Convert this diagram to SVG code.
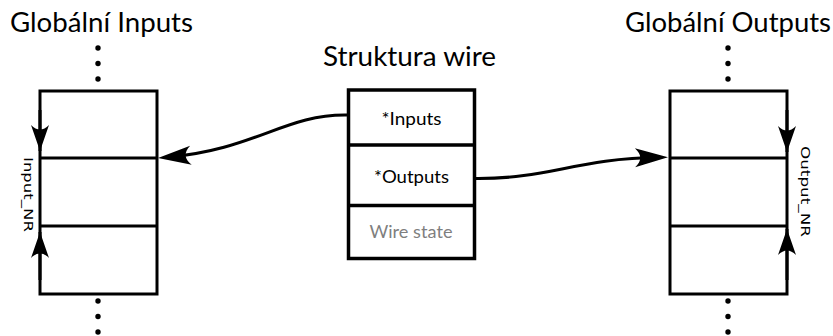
<svg xmlns="http://www.w3.org/2000/svg" width="833" height="336" viewBox="0 0 833 336">
<style>
.box{fill:#fff;stroke:#000;stroke-width:3}
.mid{fill:#fff;stroke:#000;stroke-width:3.5}
.div{fill:none;stroke:#000;stroke-width:3}
.divm{fill:none;stroke:#000;stroke-width:3.5}
.conn{fill:none;stroke:#000;stroke-width:3}
.title{font-family:Lato,"Liberation Sans",sans-serif;font-size:27px;fill:#000}
.cell{font-family:Lato,"Liberation Sans",sans-serif;font-size:16.5px;fill:#000;text-anchor:middle}
.gray{fill:#7f7f7f}
.side{font-family:"DejaVu Sans",sans-serif;font-size:12.5px;fill:#000}
.dot{fill:#000}
</style>
<defs>
<marker id="ahBig" markerUnits="userSpaceOnUse" viewBox="-40 -12 50 24" markerWidth="50" markerHeight="24" refX="-8" refY="0" orient="auto" overflow="visible">
<path d="M0,0 L-33,-9.5 C-26,-3 -26,3 -33,9.5 Z" fill="#000"/>
</marker>
<marker id="ahSmall" markerUnits="userSpaceOnUse" viewBox="-30 -12 40 24" markerWidth="40" markerHeight="24" refX="0" refY="0" orient="auto" overflow="visible">
<path d="M0,0 L-26,-9 C-20,-3 -20,3 -26,9 Z" fill="#000"/>
</marker>
</defs>
<rect width="833" height="336" fill="#fff"/>

<g id="global-inputs">
<text class="title" x="10" y="32" textLength="183" lengthAdjust="spacingAndGlyphs">Globální Inputs</text>
<circle class="dot" cx="98" cy="48" r="2.7"/>
<circle class="dot" cx="98" cy="63.5" r="2.7"/>
<circle class="dot" cx="98" cy="79" r="2.7"/>
<rect class="box" x="40" y="91" width="117" height="203"/>
<path class="div" d="M40,158 H157 M40,226 H157"/>
<circle class="dot" cx="98" cy="301" r="2.7"/>
<circle class="dot" cx="98" cy="316.5" r="2.7"/>
<circle class="dot" cx="98" cy="332" r="2.7"/>
<path class="div" d="M40,110 V151" marker-end="url(#ahSmall)"/>
<path class="div" d="M40,280 V232" marker-end="url(#ahSmall)"/>
<text class="side" transform="translate(23.5,157) rotate(90)" textLength="75" lengthAdjust="spacingAndGlyphs">Input_NR</text>
</g>

<g id="struktura-wire">
<text class="title" x="323" y="66" textLength="173" lengthAdjust="spacingAndGlyphs">Struktura wire</text>
<rect class="mid" x="348.5" y="90" width="126" height="168.5"/>
<path class="divm" d="M348.5,145 H474.5 M348.5,205.5 H474.5"/>
<text class="cell" x="411.5" y="125" textLength="60" lengthAdjust="spacingAndGlyphs">*Inputs</text>
<text class="cell" x="411.5" y="183.3" textLength="75" lengthAdjust="spacingAndGlyphs">*Outputs</text>
<text class="cell gray" x="411" y="238.3" textLength="83" lengthAdjust="spacingAndGlyphs">Wire state</text>
</g>

<g id="global-outputs">
<text class="title" x="625" y="32" textLength="206" lengthAdjust="spacingAndGlyphs">Globální Outputs</text>
<circle class="dot" cx="728" cy="48" r="2.7"/>
<circle class="dot" cx="728" cy="63.5" r="2.7"/>
<circle class="dot" cx="728" cy="79" r="2.7"/>
<rect class="box" x="670" y="91" width="117" height="203"/>
<path class="div" d="M670,158 H787 M670,226 H787"/>
<circle class="dot" cx="728" cy="301" r="2.7"/>
<circle class="dot" cx="728" cy="316.5" r="2.7"/>
<circle class="dot" cx="728" cy="332" r="2.7"/>
<path class="div" d="M787,110 V152" marker-end="url(#ahSmall)"/>
<path class="div" d="M787,280 V229" marker-end="url(#ahSmall)"/>
<text class="side" transform="translate(801,146) rotate(90)" textLength="91" lengthAdjust="spacingAndGlyphs">Output_NR</text>
</g>

<g id="connectors">
<path class="conn" d="M347,115 C285,114 255,150 166,157.4" marker-end="url(#ahBig)"/>
<path class="conn" d="M476,178.5 C550,179 575,158.5 660,157.3" marker-end="url(#ahBig)"/>
</g>
</svg>
